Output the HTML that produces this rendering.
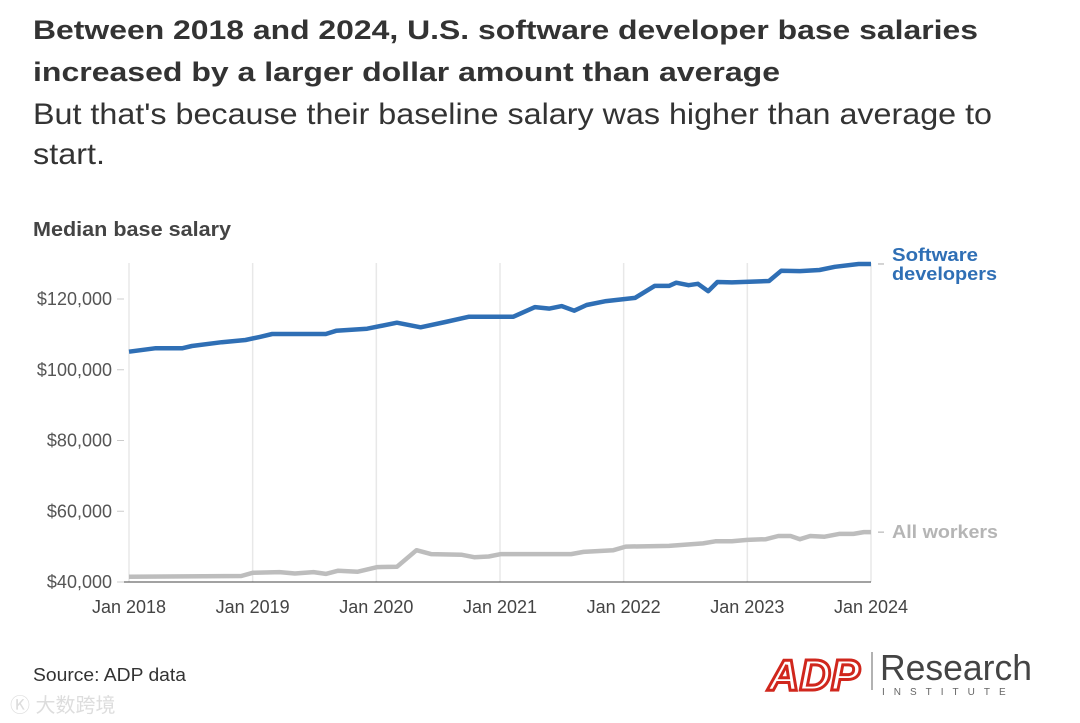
<!DOCTYPE html>
<html><head><meta charset="utf-8"><style>
html,body{margin:0;padding:0;background:#fff;}
svg{display:block;font-family:"Liberation Sans","Noto Sans CJK SC",sans-serif;}
</style></head><body>
<svg id="chart" width="1080" height="723" viewBox="0 0 1080 723">
<text x="33" y="39" font-size="27" font-weight="bold" fill="#333" textLength="945" lengthAdjust="spacingAndGlyphs">Between 2018 and 2024, U.S. software developer base salaries</text>
<text x="33" y="81" font-size="27" font-weight="bold" fill="#333" textLength="747" lengthAdjust="spacingAndGlyphs">increased by a larger dollar amount than average</text>
<text x="33" y="124" font-size="30" fill="#333" textLength="959" lengthAdjust="spacingAndGlyphs">But that's because their baseline salary was higher than average to</text>
<text x="33" y="164" font-size="30" fill="#333" textLength="72" lengthAdjust="spacingAndGlyphs">start.</text>
<text x="33" y="236" font-size="20" font-weight="bold" fill="#444" textLength="198" lengthAdjust="spacingAndGlyphs">Median base salary</text>
<g id="grid"></g>
<g id="axes"></g>
<g id="series"></g>
<text x="33" y="681" font-size="18" fill="#333" textLength="153" lengthAdjust="spacingAndGlyphs">Source: ADP data</text>
<g>
<text x="768" y="690" font-size="44" font-weight="bold" font-style="italic" fill="#fff" stroke="#d0271d" stroke-width="3" textLength="92" lengthAdjust="spacingAndGlyphs">ADP</text>
<line x1="872" y1="652" x2="872" y2="690" stroke="#666" stroke-width="1"/>
<text x="880" y="680" font-size="36" fill="#444" textLength="152" lengthAdjust="spacingAndGlyphs">Research</text>
<text x="882" y="695" font-size="10" fill="#666" letter-spacing="9">INSTITUTE</text>
</g>
<text x="10" y="712" font-size="20" fill="#ddd">Ⓚ 大数跨境</text>
</svg>
<script>
const xTickLabels = ["Jan 2018","Jan 2019","Jan 2020","Jan 2021","Jan 2022","Jan 2023","Jan 2024"];
const yTicks = [40000,60000,80000,100000,120000];
const devMonths = [0,2.6,5.2,6.1,9.0,11.3,12.7,13.9,19.1,20.1,23.1,26.0,28.3,30.7,33.0,37.3,39.4,40.8,42.0,43.2,44.4,46.3,49.1,51.0,52.4,53.1,54.3,55.2,56.2,57.1,58.5,62.1,63.3,65.1,67.0,68.5,70.8,72];
const devValues = [105100,106100,106100,106700,107800,108400,109300,110100,110100,111000,111600,113300,112000,113500,115000,115000,117700,117300,118000,116700,118300,119400,120300,123700,123700,124600,123900,124300,122200,124800,124700,125100,128000,127900,128200,129100,129900,129900];
const allMonths = [0,10.9,12.0,14.6,16.1,17.9,19.1,20.3,22.2,24.1,26.0,27.9,29.3,32.3,33.5,34.9,36.1,42.9,44.1,47.0,48.2,52.4,55.7,56.9,58.5,60.0,61.8,63.0,64.2,65.1,66.1,67.5,68.9,70.3,71.3,72];
const allValues = [41500,41700,42600,42800,42400,42800,42300,43200,42900,44200,44300,49000,47900,47700,47000,47200,47900,47900,48500,49000,50000,50200,50900,51500,51500,51900,52100,53000,53000,52100,53000,52800,53600,53600,54100,54100];

const NS="http://www.w3.org/2000/svg";
const X0=129,X1=871,Y0=582,Y1=299;
const xs=m=>X0+(X1-X0)*m/72;
const ys=v=>Y0-(Y0-Y1)*(v-40000)/80000;
function mk(tag,attrs,parent,txt){const e=document.createElementNS(NS,tag);for(const k in attrs)e.setAttribute(k,attrs[k]);if(txt!=null)e.textContent=txt;parent.appendChild(e);return e;}
const grid=document.getElementById('grid'),axes=document.getElementById('axes'),series=document.getElementById('series');
xTickLabels.forEach((l,i)=>{
  const x=xs(i*12);
  const g=mk('line',{x1:x,x2:x,y1:263,y2:Y0,stroke:'#e8e8e8','stroke-width':1.5},grid);
  
  
  const t=mk('text',{x:x,y:613,'font-size':18,fill:'#444','text-anchor':'middle'},axes,l);
  
  
});
yTicks.forEach(v=>{
  const y=ys(v);
  const tk=mk('line',{x1:117,x2:124,y1:y,y2:y,stroke:'#ccc','stroke-width':1},axes);
  
  
  const t=mk('text',{x:112,y:y+6,'font-size':18,fill:'#555','text-anchor':'end'},axes,'$'+v.toLocaleString('en-US'));
  
  
});
const base=mk('line',{x1:124,x2:X1,y1:Y0,y2:Y0,stroke:'#444','stroke-width':1},axes);


function line(ms,vs,color,name){
  const d=ms.map((m,i)=>(i?'L':'M')+xs(m).toFixed(1)+','+ys(vs[i]).toFixed(1)).join('');
  const p=mk('path',{d:d,fill:'none',stroke:color,'stroke-width':4.5,'stroke-linejoin':'round'},series);
  
  
}
line(allMonths,allValues,'#bdbdbd','all-workers-line');
line(devMonths,devValues,'#2f6fb5','software-developers-line');
const ld=ys(devValues[devValues.length-1]), la=ys(allValues[allValues.length-1]);
mk('line',{x1:878,x2:884,y1:ld,y2:ld,stroke:'#aaa'},series);
mk('line',{x1:878,x2:884,y1:la,y2:la,stroke:'#aaa'},series);
const l1=mk('text',{x:892,y:ld-3,'font-size':18,'font-weight':'bold',fill:'#2f6fb5'},series);


mk('tspan',{x:892,textLength:86,lengthAdjust:'spacingAndGlyphs'},l1,'Software');
mk('tspan',{x:892,dy:19,textLength:105,lengthAdjust:'spacingAndGlyphs'},l1,'developers');
const l2=mk('text',{x:892,y:la+6,'font-size':18,'font-weight':'bold',fill:'#b5b5b5',textLength:106,lengthAdjust:'spacingAndGlyphs'},series,'All workers');


</script>
</body></html>
